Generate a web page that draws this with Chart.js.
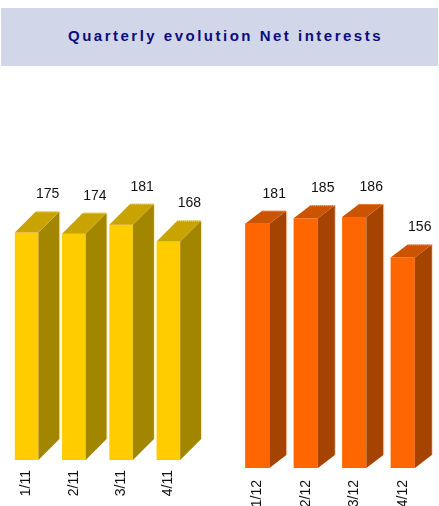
<!DOCTYPE html>
<html>
<head>
<meta charset="utf-8">
<script src="https://cdn.jsdelivr.net/npm/chart.js@4.4.0/dist/chart.umd.min.js"></script>
<style>
  html, body { margin: 0; padding: 0; background: #fff; }
  body { width: 439px; height: 506px; position: relative; overflow: hidden; font-family: Arial, "Liberation Sans", sans-serif; }
  #banner {
    position: absolute; left: 1px; top: 8px; width: 437px; height: 58px;
    box-sizing: border-box; padding: 0 0 4px 12px;
    background: #d1d6e8; color: #0c0c80;
    font-weight: bold; font-size: 15px; letter-spacing: 2.5px;
    display: flex; align-items: center; justify-content: center;
  }
  .box { position: absolute; top: 80px; height: 426px; }
  #leftBox { left: 0; width: 220px; }
  #rightBox { left: 220px; width: 219px; }
</style>
</head>
<body>
<div id="banner">Quarterly evolution Net interests</div>
<div class="box" id="leftBox"><canvas id="chart2011"></canvas></div>
<div class="box" id="rightBox"><canvas id="chart2012"></canvas></div>

<script>
const quarters2011 = ["1/11", "2/11", "3/11", "4/11"];
const values2011 = [175, 174, 181, 168];

const quarters2012 = ["1/12", "2/12", "3/12", "4/12"];
const values2012 = [181, 185, 186, 156];

// extrude each bar: top face and right side face behind the front rectangle
const boxes3d = {
  id: 'boxes3d',
  afterDatasetsDraw(chart, args, opts) {
    const ctx = chart.ctx;
    const meta = chart.getDatasetMeta(0);
    const data = chart.data.datasets[0].data;
    ctx.save();
    meta.data.forEach((bar, i) => {
      const p = bar.getProps(['x', 'y', 'base', 'width'], true);
      const l = p.x - p.width / 2, r = p.x + p.width / 2;
      const t = p.y, b = p.base;
      const dx = opts.dx, dy = opts.dy;

      ctx.fillStyle = opts.side;
      ctx.beginPath();
      ctx.moveTo(r, b);
      ctx.lineTo(r + dx, b - dy);
      ctx.lineTo(r + dx, t - dy);
      ctx.lineTo(r, t);
      ctx.closePath();
      ctx.fill();

      ctx.fillStyle = opts.top;
      ctx.beginPath();
      ctx.moveTo(l, t);
      ctx.lineTo(l + dx, t - dy);
      ctx.lineTo(r + dx, t - dy);
      ctx.lineTo(r, t);
      ctx.closePath();
      ctx.fill();

      // dotted pale fringe on the back edges
      ctx.strokeStyle = opts.fringe;
      ctx.lineWidth = 1;
      ctx.setLineDash([1, 1]);
      ctx.beginPath();
      ctx.moveTo(l + dx + 0.5, t - dy + 0.5);
      ctx.lineTo(r + dx + 0.5, t - dy + 0.5);
      ctx.lineTo(r + dx + 0.5, b - dy);
      ctx.stroke();
      ctx.setLineDash([]);

      // value above the back face
      ctx.fillStyle = '#111';
      ctx.font = '14px Arial, "Liberation Sans", sans-serif';
      ctx.textAlign = 'center';
      ctx.textBaseline = 'bottom';
      ctx.fillText(String(data[i]), p.x + dx, t - dy - 10);
    });
    ctx.restore();
  }
};

function makeChart(id, labels, values, front, side, top, fringe, dx, dy, pad, axisH, tickPad) {
  return new Chart(document.getElementById(id), {
    type: 'bar',
    data: {
      labels: labels,
      datasets: [{
        data: values,
        backgroundColor: front,
        borderWidth: 0,
        barPercentage: 0.5,
        categoryPercentage: 1
      }]
    },
    options: {
      responsive: true,
      maintainAspectRatio: false,
      animation: false,
      layout: { padding: pad },
      plugins: {
        legend: { display: false },
        tooltip: { enabled: false },
        boxes3d: { side: side, top: top, fringe: fringe, dx: dx, dy: dy }
      },
      scales: {
        y: { display: false, min: 0, max: 200 },
        x: {
          grid: { display: false, drawTicks: false },
          border: { display: false },
          afterFit: s => { s.height = axisH; },
          ticks: {
            minRotation: 90,
            maxRotation: 90,
            padding: tickPad,
            color: '#111',
            font: { family: 'Arial, "Liberation Sans", sans-serif', size: 14 }
          }
        }
      }
    },
    plugins: [boxes3d]
  });
}

makeChart('chart2011', quarters2011, values2011, '#ffcc00', '#a38600', '#c9a300', '#f3df8a',
  21, 21, { left: 3, right: 28, top: 120, bottom: 6 }, 40, 10);
makeChart('chart2012', quarters2012, values2012, '#ff6600', '#a54300', '#cc5300', '#f5b58a',
  17, 13, { left: 13, right: 12, top: 118, bottom: 0 }, 38, 12);
</script>
</body>
</html>
